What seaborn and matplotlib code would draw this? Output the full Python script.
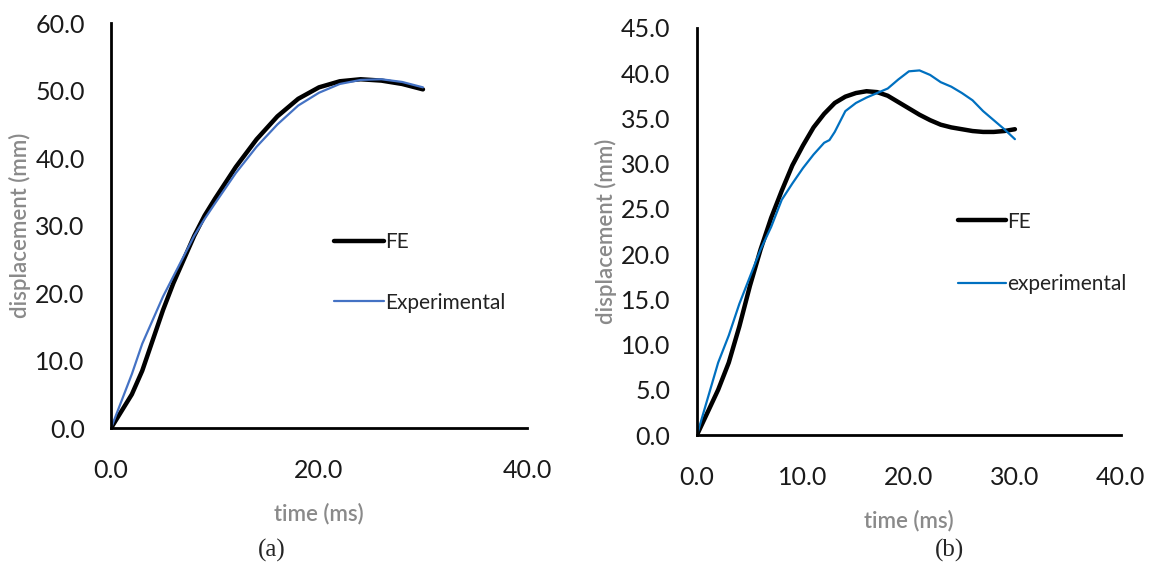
import numpy as np
import pandas as pd
import matplotlib
matplotlib.use("Agg")
import matplotlib.pyplot as plt
import seaborn as sns

# ---- data ----
time_a = [0, 1, 2, 3, 4, 5, 6, 7, 8, 9, 10, 12, 14, 16, 18, 20, 22, 24, 26, 28, 30]
fe_a = [0, 2.5, 5, 8.5, 13, 17.5, 21.5, 25, 28.5, 31.5, 34, 38.7, 42.8, 46.2, 48.8, 50.5, 51.4, 51.7, 51.5, 51.0, 50.2]
exp_a = [0, 4, 8, 12.5, 16, 19.5, 22.5, 25.5, 28.5, 31, 33.3, 37.8, 41.7, 45, 47.8, 49.7, 51, 51.6, 51.7, 51.3, 50.5]

time_b_fe = [0, 1, 2, 3, 4, 5, 6, 7, 8, 9, 10, 11, 12, 13, 14, 15, 16, 17, 18, 19, 20, 21, 22, 23, 24, 25, 26, 27, 28, 29, 30]
fe_b = [0, 2.5, 5, 8, 12, 16.5, 20.5, 24, 27, 29.8, 32, 34, 35.5, 36.7, 37.4, 37.8, 38, 37.9, 37.5, 36.8, 36.1, 35.4, 34.8, 34.3, 34.0, 33.8, 33.6, 33.5, 33.5, 33.6, 33.8]
time_b_exp = [0, 1, 2, 3, 4, 5, 6, 7, 8, 9, 10, 11, 12, 12.5, 13, 14, 15, 16, 17, 18, 19, 20, 21, 22, 23, 24, 25, 26, 27, 28, 29, 30]
exp_b = [0, 4, 8, 11, 14.5, 17.5, 20.5, 23, 26, 27.8, 29.5, 31, 32.3, 32.6, 33.5, 35.8, 36.7, 37.3, 37.8, 38.3, 39.3, 40.2, 40.3, 39.8, 39.0, 38.5, 37.8, 37.0, 35.8, 34.8, 33.8, 32.7]

labels_a = ["FE", "Experimental"]
labels_b = ["FE", "experimental"]

sns.set_theme(style="white")
plt.rcParams['font.family'] = ['Lato', 'DejaVu Sans']

fig = plt.figure(figsize=(11.52, 5.67), dpi=100)
ax1 = fig.add_axes([0.0964, 0.245, 0.361, 0.714])
ax2 = fig.add_axes([0.605, 0.2328, 0.368, 0.718])

sns.lineplot(x=time_a, y=fe_a, ax=ax1, color="black", lw=3.2, label=labels_a[0], sort=False, estimator=None)
sns.lineplot(x=time_a, y=exp_a, ax=ax1, color="#4472C4", lw=1.6, label=labels_a[1], sort=False, estimator=None)
sns.lineplot(x=time_b_fe, y=fe_b, ax=ax2, color="black", lw=3.2, label=labels_b[0], sort=False, estimator=None)
sns.lineplot(x=time_b_exp, y=exp_b, ax=ax2, color="#0070C0", lw=1.6, label=labels_b[1], sort=False, estimator=None)

for ax, ymax, ystep, xstep in [(ax1, 60, 10, 20), (ax2, 45, 5, 10)]:
    ax.set_xlim(0, 40)
    ax.set_ylim(0, ymax)
    ax.set_xticks(np.arange(0, 40.1, xstep))
    ax.set_yticks(np.arange(0, ymax + 0.1, ystep))
    ax.set_xticklabels([f"{v:.1f}" for v in np.arange(0, 40.1, xstep)])
    ax.set_yticklabels([f"{v:.1f}" for v in np.arange(0, ymax + 0.1, ystep)])
    for s in ["top", "right"]:
        ax.spines[s].set_visible(False)
    for s in ["left", "bottom"]:
        ax.spines[s].set_color("black")
        ax.spines[s].set_linewidth(2.0)
    ax.tick_params(axis="both", direction="in", length=7, width=2.0, colors="black",
                   labelsize=18, labelcolor="#1a1a1a")
    ax.tick_params(axis="x", pad=22)
    ax.tick_params(axis="y", pad=19)
    ax.set_xlabel("time (ms)", fontsize=16, color="#8a8a8a", fontweight="semibold", labelpad=15)
    ax.set_ylabel("displacement (mm)", fontsize=16, color="#8a8a8a", fontweight="semibold", labelpad=3)
    ax.patch.set_alpha(0)

leg1 = ax1.legend(loc="center left", bbox_to_anchor=(0.491, 0.385), frameon=False, fontsize=15,
                  handlelength=2.4, handletextpad=0.05, labelspacing=1.95)
leg2 = ax2.legend(loc="center left", bbox_to_anchor=(0.572, 0.447), frameon=False, fontsize=15,
                  handlelength=2.3, handletextpad=0.05, labelspacing=2.05)
for leg in (leg1, leg2):
    for t in leg.get_texts():
        t.set_color("#222222")

fig.text(272 / 1152, 1 - 550 / 567, "(a)", ha="center", va="center", fontsize=18, family="Liberation Serif")
fig.text(949 / 1152, 1 - 550 / 567, "(b)", ha="center", va="center", fontsize=18, family="Liberation Serif")

fig.savefig("out.png", dpi=100, facecolor="white")
